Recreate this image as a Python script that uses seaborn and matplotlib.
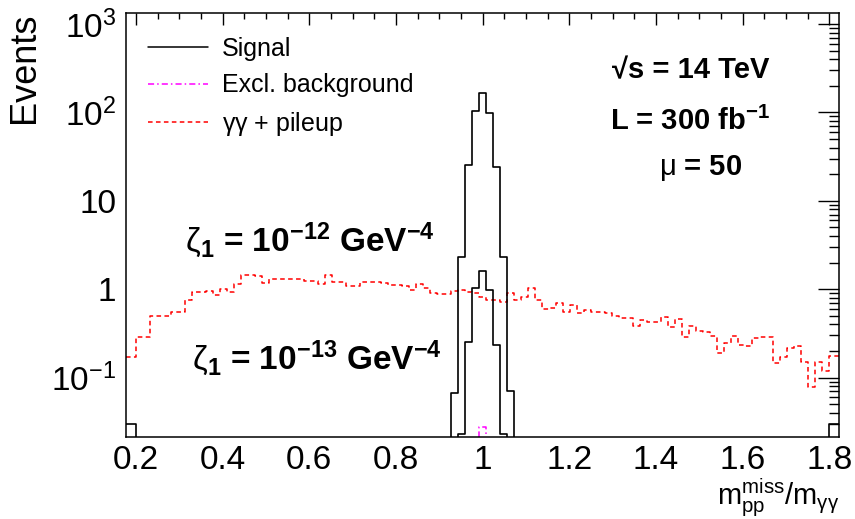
import numpy as np
import pandas as pd
import matplotlib
matplotlib.use("Agg")
import matplotlib.pyplot as plt
import seaborn as sns
from matplotlib.lines import Line2D
from matplotlib.ticker import MultipleLocator, LogLocator, NullFormatter, FixedLocator, FixedFormatter

# ---------------- data ----------------
x_min, x_max = 0.177, 1.823
n_bins = 99
bin_edges = [x_min] + list(np.linspace(0.2, 1.8, n_bins + 1)) + [x_max]
bin_centers = [0.5 * (a + b) for a, b in zip(bin_edges[:-1], bin_edges[1:])]

# gamma gamma + pileup background (per bin, incl. edge bins)
pileup = [0.173,
          0.286, 0.286, 0.499, 0.499, 0.499, 0.558, 0.558, 0.757, 0.940, 0.940,
          0.964, 0.862, 1.000, 0.940, 1.148, 1.451, 1.451, 1.414, 1.169, 1.297,
          1.297, 1.318, 1.318, 1.318, 1.251, 1.251, 1.139, 1.451, 1.219, 1.219,
          1.090, 1.090, 1.200, 1.200, 1.219, 1.169, 1.119, 1.119, 1.090, 0.982,
          1.139, 1.026, 0.915, 0.885, 0.885, 0.964, 0.982, 0.932, 0.901, 0.825,
          0.757, 0.757, 0.713, 0.901, 0.757, 0.825, 1.026, 0.757, 0.594, 0.610,
          0.695, 0.558, 0.664, 0.535, 0.580, 0.558, 0.558, 0.544, 0.499, 0.477,
          0.477, 0.385, 0.446, 0.430, 0.430, 0.482, 0.377, 0.465, 0.291, 0.385,
          0.340, 0.329, 0.296, 0.189, 0.245, 0.296, 0.234, 0.228, 0.279, 0.289,
          0.289, 0.146, 0.170, 0.215, 0.230, 0.152, 0.079, 0.152, 0.120,
          0.176]

# signal, zeta1 = 1e-12 GeV^-4 (bins 46..54 of the full list)
signal_12_peak = [0.0676, 2.30, 25.5, 104.8, 165.0, 99.5, 24.0, 2.34, 0.0713]
# signal, zeta1 = 1e-13 GeV^-4 (bins 47..53)
signal_13_peak = [0.023, 0.255, 1.03, 1.61, 0.98, 0.234, 0.023]
signal_edge_bins = 0.030
# exclusive background (peak bin only)
excl_peak = 0.028

signal_12 = np.zeros(len(bin_centers))
signal_12[46:55] = signal_12_peak
signal_13 = np.zeros(len(bin_centers))
signal_13[47:54] = signal_13_peak
signal_13[0] = signal_edge_bins
signal_13[-1] = signal_edge_bins
excl = np.zeros(len(bin_centers))
excl[50] = excl_peak

x_ticks = [0.2, 0.4, 0.6, 0.8, 1.0, 1.2, 1.4, 1.6, 1.8]
x_tick_labels = ["0.2", "0.4", "0.6", "0.8", "1", "1.2", "1.4", "1.6", "1.8"]
y_ticks = [0.1, 1, 10, 100, 1000]
y_tick_labels = [r"$\mathregular{10^{-1}}$", "1", "10",
                 r"$\mathregular{10^{2}}$", r"$\mathregular{10^{3}}$"]

df = pd.DataFrame({"x": bin_centers, "pileup": pileup, "sig12": signal_12,
                   "sig13": signal_13, "excl": excl})

# ---------------- style ----------------
sns.set_style("white")
plt.rcParams["font.family"] = ["Liberation Sans", "DejaVu Sans"]
plt.rcParams["mathtext.fontset"] = "custom"
plt.rcParams["mathtext.rm"] = "Liberation Sans"
plt.rcParams["mathtext.it"] = "Liberation Sans:italic"
plt.rcParams["mathtext.bf"] = "Liberation Sans:bold"
plt.rcParams["mathtext.sf"] = "Liberation Sans"
plt.rcParams["text.color"] = "black"
plt.rcParams["axes.labelcolor"] = "black"
plt.rcParams["xtick.color"] = "black"
plt.rcParams["ytick.color"] = "black"

fig = plt.figure(figsize=(8.55, 5.19), dpi=100)
ax = fig.add_axes([126 / 855, 1 - 436.7 / 519, (839.3 - 126) / 855, (436.7 - 13) / 519])

red_dash = (0, (3.0, 2.2))
mag_dash = (0, (4, 2, 1, 2))

sns.histplot(data=df, x="x", weights="pileup", bins=bin_edges, element="step",
             fill=False, color="#ff0000", linewidth=1.1, linestyle=red_dash, ax=ax)
sns.histplot(data=df, x="x", weights="excl", bins=bin_edges, element="step",
             fill=False, color="#ff00ff", linewidth=1.1, linestyle=mag_dash, ax=ax)
sns.histplot(data=df, x="x", weights="sig12", bins=bin_edges, element="step",
             fill=False, color="black", linewidth=1.2, ax=ax)
sns.histplot(data=df, x="x", weights="sig13", bins=bin_edges, element="step",
             fill=False, color="black", linewidth=1.2, ax=ax)

ax.set_yscale("log")
ax.set_xlim(x_min, x_max)
ax.set_ylim(0.0215, 1330)

# ticks
ax.xaxis.set_major_locator(FixedLocator(x_ticks))
ax.xaxis.set_major_formatter(FixedFormatter(x_tick_labels))
ax.xaxis.set_minor_locator(MultipleLocator(0.05))
ax.yaxis.set_major_locator(FixedLocator(y_ticks))
ax.yaxis.set_major_formatter(FixedFormatter(y_tick_labels))
ax.yaxis.set_minor_locator(LogLocator(base=10, subs=np.arange(2, 10), numticks=20))
ax.yaxis.set_minor_formatter(NullFormatter())
ax.tick_params(axis="both", which="both", direction="in", top=True, right=True,
               labelsize=24, width=1.0, colors="black")
ax.tick_params(axis="x", which="major", length=8.6, pad=6)
ax.tick_params(axis="x", which="minor", length=4.3)
ax.tick_params(axis="y", which="major", length=15, pad=7)
ax.tick_params(axis="y", which="minor", length=7.5)
for s in ax.spines.values():
    s.set_linewidth(1.1)
    s.set_color("black")

ax.set_ylabel("Events", fontsize=26, loc="top")
ax.yaxis.set_label_coords(-0.118, 1.0)
ax.set_xlabel(r"$\mathrm{m_{pp}^{miss}/m_{\gamma\gamma}}$", fontsize=21, loc="right")
ax.xaxis.label.set_verticalalignment("baseline")
ax.xaxis.set_label_coords(1.0, -0.161)

# legend
handles = [Line2D([], [], color="black", lw=1.1),
           Line2D([], [], color="#ff00ff", lw=1.1, linestyle=mag_dash),
           Line2D([], [], color="#ff0000", lw=1.1, linestyle=red_dash)]
labels = ["Signal", "Excl. background", r"$\mathregular{\gamma\gamma}$ + pileup"]
ax.legend(handles, labels, loc="upper left", bbox_to_anchor=(0.006, 0.985),
          frameon=False, fontsize=18, handlelength=2.4, handletextpad=0.55,
          labelspacing=0.5, borderaxespad=0.3, labelcolor="black")

# annotations
ax.text(0.791, 0.865, "√s = 14 TeV", transform=ax.transAxes, ha="center", va="center",
        fontsize=21, fontweight="bold", family=["Liberation Sans", "DejaVu Sans"])
ax.text(0.791, 0.743, r"L = 300 fb$^{\mathregular{-1}}$", transform=ax.transAxes,
        ha="center", va="center", fontsize=21, fontweight="bold")
ax.text(0.805, 0.634, r"$\mathrm{\mu}$ = 50", transform=ax.transAxes,
        ha="center", va="center", fontsize=21, fontweight="bold")
ax.text(0.083, 0.464,
        r"$\mathrm{\zeta}_{\mathregular{1}}$ = 10$^{\mathregular{-12}}$ GeV$^{\mathregular{-4}}$",
        transform=ax.transAxes, ha="left", va="center", fontsize=24, fontweight="bold")
ax.text(0.0925, 0.186,
        r"$\mathrm{\zeta}_{\mathregular{1}}$ = 10$^{\mathregular{-13}}$ GeV$^{\mathregular{-4}}$",
        transform=ax.transAxes, ha="left", va="center", fontsize=24, fontweight="bold")

fig.savefig("out.png", dpi=100)
